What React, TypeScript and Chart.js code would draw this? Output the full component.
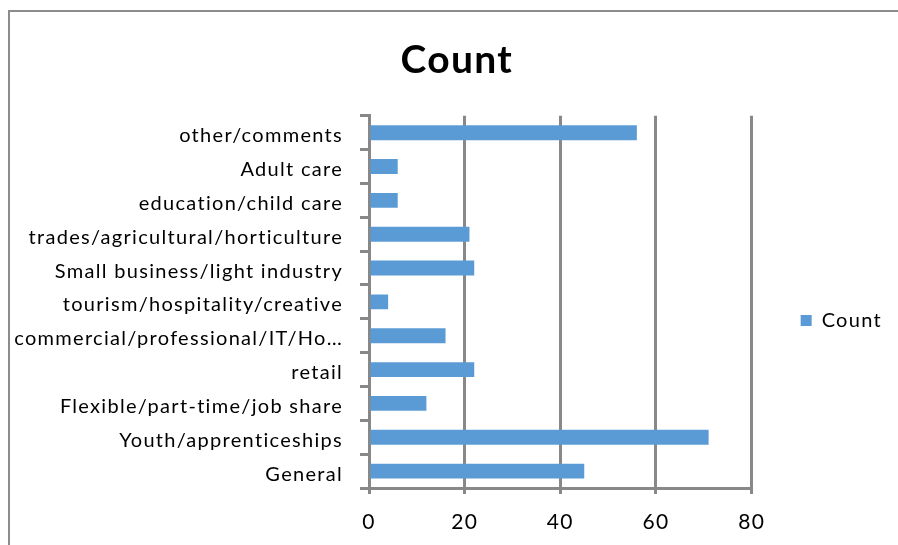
import React, { useEffect, useRef } from 'react';
import { Chart, registerables } from 'chart.js';

Chart.register(...registerables);

const chartTitle = 'Count';
const seriesName = 'Count';
const categories = [
  'other/comments',
  'Adult care',
  'education/child care',
  'trades/agricultural/horticulture',
  'Small business/light industry',
  'tourism/hospitality/creative',
  'commercial/professional/IT/Ho…',
  'retail',
  'Flexible/part-time/job share',
  'Youth/apprenticeships',
  'General',
];
const counts = [56, 6, 6, 21, 22, 4, 16, 22, 12, 71, 45];
const xMin = 0;
const xMax = 80;
const xStep = 20;

const FONT = 'Lato, "Open Sans", sans-serif';
const GRID = '#888888';
const SPACING = '1.3px';

const framePlugin = {
  id: 'frame',
  beforeLayout(chart: any) {
    (chart.ctx as any).letterSpacing = SPACING;
  },
  beforeDraw(chart: any) {
    const ctx = chart.ctx;
    (ctx as any).letterSpacing = SPACING;
    ctx.save();
    ctx.fillStyle = '#ffffff';
    ctx.fillRect(0, 0, chart.width, chart.height);
    ctx.strokeStyle = '#8c8c8c';
    ctx.lineWidth = 2;
    ctx.beginPath();
    ctx.moveTo(9, chart.height);
    ctx.lineTo(9, 11);
    ctx.lineTo(chart.width, 11);
    ctx.stroke();
    ctx.restore();
  },
};

export default function App() {
  const ref = useRef<HTMLCanvasElement | null>(null);
  useEffect(() => {
    if (!ref.current) return;
    const chart = new Chart(ref.current, {
      type: 'bar',
      data: {
        labels: categories,
        datasets: [
          {
            label: seriesName,
            data: counts,
            backgroundColor: '#5B9BD5',
            borderWidth: 0,
            categoryPercentage: 1,
            barPercentage: 0.44,
          },
        ],
      },
      plugins: [framePlugin],
      options: {
        indexAxis: 'y',
        animation: false,
        responsive: false,
        maintainAspectRatio: false,
        layout: { padding: { left: 0, right: 6, top: 0, bottom: 0 } },
        plugins: {
          title: {
            display: true,
            text: '  ' + chartTitle,
            color: '#000',
            font: { family: FONT, size: 39, weight: 'bold', lineHeight: 1.2 },
            padding: { top: 37, bottom: 32 },
          },
          legend: {
            display: true,
            position: 'right',
            title: {
              display: true,
              text: ' ',
              font: { family: FONT, size: 10, lineHeight: 1.2 },
              padding: { top: 0, bottom: 84 },
            },
            labels: {
              color: '#000',
              boxWidth: 11,
              boxHeight: 11,
              padding: 49,
              font: { family: FONT, size: 20 },
            },
          },
          tooltip: { enabled: false },
        },
        scales: {
          x: {
            min: xMin,
            max: xMax,
            ticks: {
              stepSize: xStep,
              color: '#000',
              padding: 16,
              font: { family: FONT, size: 21 },
            },
            grid: { color: GRID, lineWidth: 3, tickLength: 6 },
            border: { display: true, color: GRID, width: 3 },
            afterFit(scale: any) {
              scale.height = 57;
            },
          },
          y: {
            ticks: {
              color: '#000',
              padding: 17,
              labelOffset: 3,
              font: { family: FONT, size: 20 },
            },
            grid: { drawOnChartArea: false, color: GRID, lineWidth: 3, tickLength: 9 },
            border: { display: true, color: GRID, width: 3 },
            afterFit(scale: any) {
              scale.width = 369;
            },
          },
        },
      },
    });
    return () => chart.destroy();
  }, []);
  return (
    <div style={{ position: 'absolute', left: 0, top: 0, width: 898, height: 545 }}>
      <canvas ref={ref} width={898} height={545} style={{ width: 898, height: 545 }} />
    </div>
  );
}
